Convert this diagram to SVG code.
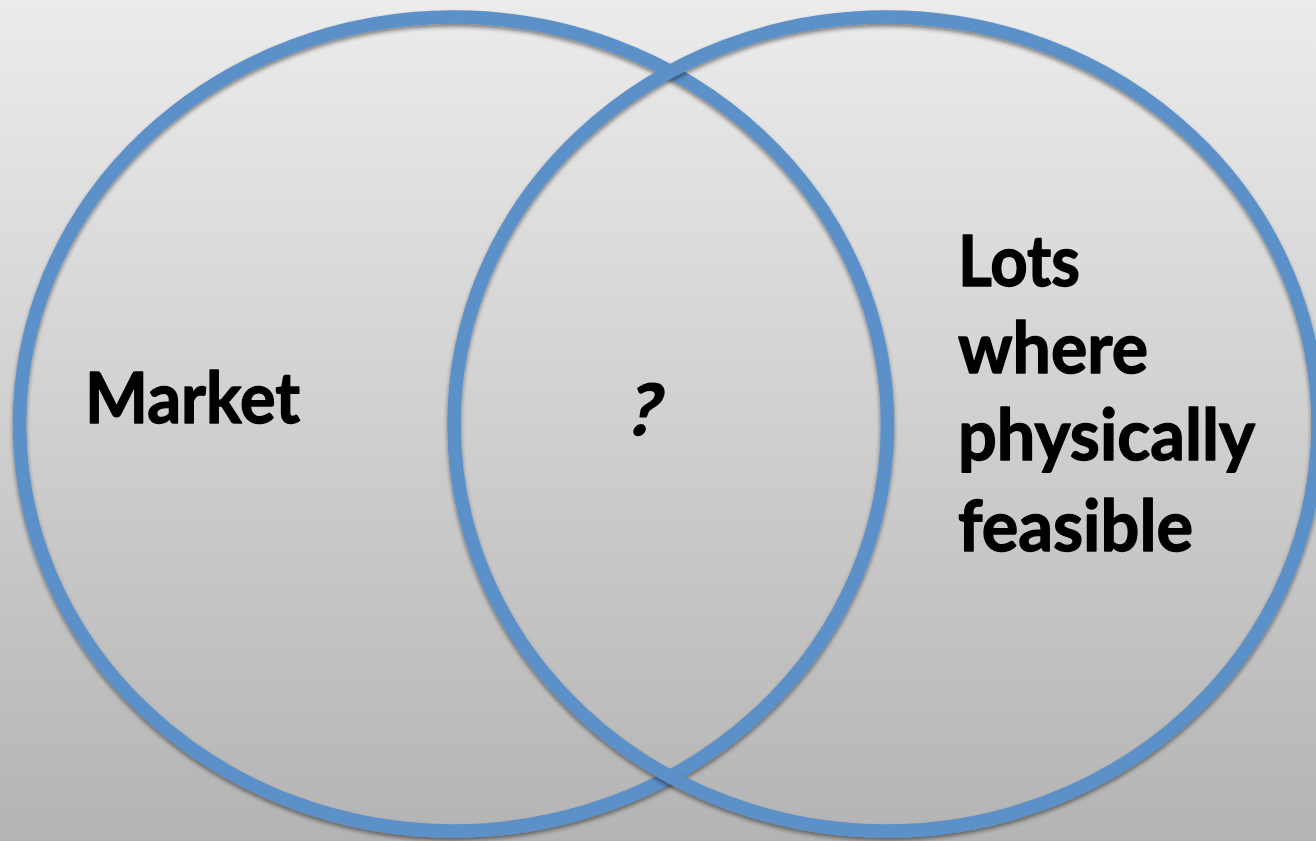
<svg xmlns="http://www.w3.org/2000/svg" width="1316" height="841" viewBox="0 0 1316 841">
  <defs>
    <linearGradient id="bg" x1="0" y1="0" x2="0" y2="1">
      <stop offset="0" stop-color="#ececec"/>
      <stop offset="1" stop-color="#b4b4b4"/>
    </linearGradient>
    <filter id="sh" x="-10%" y="-10%" width="120%" height="120%">
      <feDropShadow dx="0" dy="3" stdDeviation="2.2" flood-color="#000" flood-opacity="0.45"/>
    </filter>
    <style>
      .ring { fill: none; stroke: #5b90c8; stroke-width: 13.5; filter: url(#sh); }
      .lbl { font-family: Lato, "Open Sans", "Liberation Sans", sans-serif; font-weight: bold; font-size: 71px; fill: #000; stroke: #000; stroke-width: 1.4; stroke-linejoin: round; }
    </style>
  </defs>
  <rect x="0" y="0" width="1316" height="841" fill="url(#bg)"/>
  <g id="market">
    <ellipse class="ring" cx="453.5" cy="424" rx="434" ry="407"/>
    <text class="lbl" x="85" y="423" textLength="215" lengthAdjust="spacingAndGlyphs">Market</text>
  </g>
  <g id="feasible">
    <ellipse class="ring" cx="886" cy="424" rx="432" ry="407"/>
    <text class="lbl" x="958" y="286" textLength="122" lengthAdjust="spacingAndGlyphs">Lots</text>
    <text class="lbl" x="958" y="373" textLength="190" lengthAdjust="spacingAndGlyphs">where</text>
    <text class="lbl" x="958" y="460" textLength="297" lengthAdjust="spacingAndGlyphs">physically</text>
    <text class="lbl" x="958" y="551" textLength="235" lengthAdjust="spacingAndGlyphs">feasible</text>
  </g>
  <g id="overlap">
    <text class="lbl" transform="translate(640,435) skewX(-14)" x="0" y="0" font-size="72" text-anchor="middle">?</text>
  </g>
  <g id="connectors"/>
</svg>
